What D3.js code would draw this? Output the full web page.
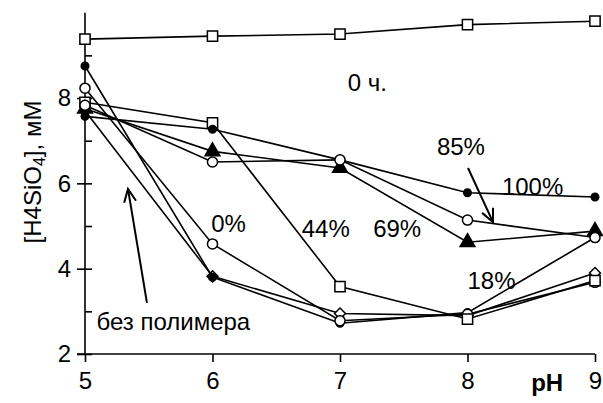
<!DOCTYPE html>
<html>
<head>
<meta charset="utf-8">
<script src="https://cdn.jsdelivr.net/npm/d3@7"></script>
<style>
  html, body { margin: 0; padding: 0; background: #fff; }
  svg { display: block; font-family: "Liberation Sans", Arial, sans-serif; }
</style>
</head>
<body>
<svg id="chart" width="603" height="403"></svg>
<script>
// pH values along the x axis
const pH = [5, 6, 7, 8, 9];
const xTicks = [5, 6, 7, 8, 9];
const yMajorTicks = [2, 4, 6, 8];
const yAllTicks = [2, 3, 4, 5, 6, 7, 8, 9];

// silicic acid concentration, mM, for each series
const series0h      = [9.38, 9.45, 9.50, 9.72, 9.80];
const seriesNoPoly  = [7.70, 3.82, 2.95, 2.90, 3.90];
const series0       = [8.23, 4.58, 2.78, 2.93, 3.68];
const series18      = [8.75, 3.80, 2.72, 2.97, 4.73];
const series44      = [7.90, 7.42, 3.58, 2.82, 3.72];
const series69      = [7.75, 6.75, 6.36, 4.62, 4.88];
const series85      = [7.83, 6.50, 6.55, 5.14, 4.73];
const series100     = [7.57, 7.27, 6.55, 5.78, 5.68];

// drawing order: later series sit on top
const seriesList = [
  { values: seriesNoPoly, marker: "diamond" },
  { values: series18,     marker: "dot" },
  { values: series0,      marker: "circle" },
  { values: series44,     marker: "square" },
  { values: series100,    marker: "dot" },
  { values: series69,     marker: "triangle" },
  { values: series85,     marker: "circle" },
  { values: series0h,     marker: "square" }
];

// annotation texts placed in data units [pH, mM]
const labels = [
  { text: "0 ч.",          at: [7.06, 8.16] },
  { text: "85%",           at: [7.76, 6.66] },
  { text: "100%",          at: [8.27, 5.73] },
  { text: "69%",           at: [7.26, 4.75] },
  { text: "44%",           at: [6.70, 4.75] },
  { text: "0%",            at: [5.99, 4.87] },
  { text: "18%",           at: [8.00, 3.52] },
  { text: "без полимера",  at: [5.09, 2.56] }
];

// pointer arrows: [tail, tip] in data units
const arrows = [
  [[5.486, 3.20], [5.337, 5.87]],
  [[8.004, 6.36], [8.200, 5.09]]
];

const svg = d3.select("#chart");
const x = d3.scaleLinear().domain([5, 9]).range([85, 595]);
const y = d3.scaleLinear().domain([2, 10]).range([354, 12.7]);
const FS = 24;

// axes
const xAxis = svg.append("g").attr("transform", `translate(0,${y(2)})`)
  .call(d3.axisBottom(x).tickValues(xTicks).tickSize(8).tickPadding(10).tickFormat(d3.format("d")));
xAxis.select(".domain").attr("d", `M${x(5) - 8},0H${x(9)}`);

const yAxisL = svg.append("g").attr("transform", `translate(${x(5)},0)`)
  .call(d3.axisLeft(y).tickValues(yMajorTicks).tickSize(8).tickPadding(6).tickFormat(d3.format("d")));
yAxisL.select(".domain").attr("d", `M0,${y(2)}V${y(10)}`);

const yAxisR = svg.append("g").attr("transform", `translate(${x(5)},0)`)
  .call(d3.axisRight(y).tickValues(yAllTicks).tickSize(7).tickFormat(""));
yAxisR.select(".domain").remove();

svg.selectAll(".domain, .tick line").attr("stroke", "#000").attr("stroke-width", 1.6);
svg.selectAll(".tick text").attr("font-size", FS).attr("fill", "#000")
  .attr("font-family", "'Liberation Sans', Arial, sans-serif");

// x axis title
svg.append("text").attr("x", x(8.625)).attr("y", y(2) + 37)
  .attr("font-size", FS).attr("font-weight", "bold").attr("text-anchor", "middle").text("pH");

// y axis title with subscript
const yTitle = svg.append("text")
  .attr("transform", `translate(41,172) rotate(-90)`)
  .attr("text-anchor", "middle").attr("font-size", FS);
yTitle.append("tspan").text("[H4SiO");
yTitle.append("tspan").attr("font-size", 16).attr("dy", 4).text("4");
yTitle.append("tspan").attr("dy", -4).text("], мМ");

// lines
const line = d3.line().x((d, i) => x(pH[i])).y(d => y(d));
svg.append("g").selectAll("path").data(seriesList).join("path")
  .attr("d", s => line(s.values))
  .attr("fill", "none").attr("stroke", "#000").attr("stroke-width", 1.6);

// markers
const symbolFor = {
  square:   { gen: d3.symbol().type(d3.symbolSquare).size(105), rot: 0 },
  circle:   { gen: d3.symbol().type(d3.symbolCircle).size(80),  rot: 0 },
  dot:      { gen: d3.symbol().type(d3.symbolCircle).size(45),  rot: 0 },
  triangle: { gen: d3.symbol().type(d3.symbolTriangle).size(95), rot: 0 },
  diamond:  { gen: d3.symbol().type(d3.symbolSquare).size(60),  rot: 45 }
};
const mg = svg.append("g");
seriesList.forEach(s => {
  const filled = s.marker === "dot" || s.marker === "triangle";
  const sym = symbolFor[s.marker];
  mg.append("g").selectAll("path").data(s.values).join("path")
    .attr("transform", (d, i) => `translate(${x(pH[i])},${y(d)}) rotate(${sym.rot})`)
    .attr("d", sym.gen())
    .attr("fill", filled ? "#000" : "#fff")
    .attr("stroke", "#000").attr("stroke-width", 1.5);
});

// annotations
svg.append("g").selectAll("text").data(labels).join("text")
  .attr("x", d => x(d.at[0])).attr("y", d => y(d.at[1]))
  .attr("font-size", FS).attr("fill", "#000").text(d => d.text);

const ag = svg.append("g").attr("stroke", "#000").attr("stroke-width", 2).attr("fill", "none");
arrows.forEach(([tail, tip]) => {
  const x0 = x(tail[0]), y0 = y(tail[1]), x1 = x(tip[0]), y1 = y(tip[1]);
  const len = Math.hypot(x1 - x0, y1 - y0);
  const ux = (x1 - x0) / len, uy = (y1 - y0) / len;
  const back = 13, half = 6;
  const bx = x1 - ux * back, by = y1 - uy * back;
  ag.append("path").attr("d", `M${x0},${y0}L${x1},${y1}`);
  ag.append("path").attr("d",
    `M${bx - uy * half},${by + ux * half}L${x1},${y1}L${bx + uy * half},${by - ux * half}`);
});
</script>
</body>
</html>
